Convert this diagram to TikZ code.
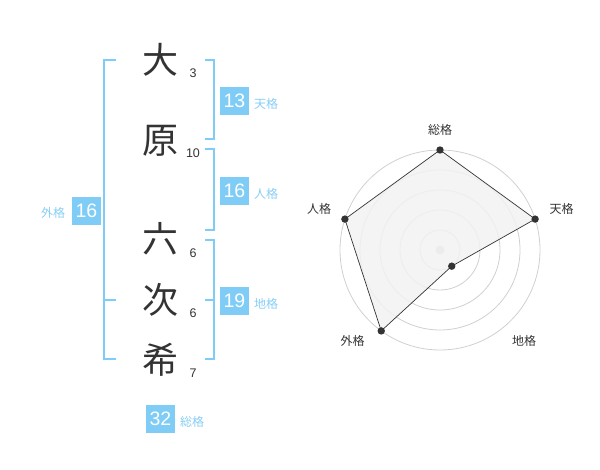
\documentclass[tikz,border=0pt]{standalone}
\usepackage{fontspec}
\setmainfont{Liberation Sans}
\newfontfamily\jpfont{Noto Sans CJK JP}
\usetikzlibrary{calc}
\definecolor{kaku}{RGB}{127,204,247}
\definecolor{kakutext}{RGB}{135,206,245}
\definecolor{ink}{RGB}{51,51,51}
\definecolor{ring}{RGB}{208,208,208}
\definecolor{area}{RGB}{242,242,242}
\tikzset{
  moji/.style={text=ink, font=\jpfont\fontsize{36}{36}\selectfont, inner sep=0},
  kakusu/.style={text=ink, font=\fontsize{12.5}{12.5}\selectfont, inner sep=0},
  kbox/.style={fill=kaku, text=white, font=\fontsize{19.5}{19.5}\selectfont, minimum width=29, minimum height=28, inner sep=0},
  klabel/.style={text=kakutext, font=\jpfont\fontsize{12}{12}\selectfont, inner sep=0},
  bracket/.style={draw=kaku, line width=2},
  rlabel/.style={text=ink, font=\jpfont\fontsize{12}{12}\selectfont, inner sep=0},
  ringline/.style={draw=ring, line width=0.8},
  dot/.style={fill=ink, draw=none}
}

\begin{document}
\begin{tikzpicture}[x=1pt, y=-1pt]
			%%%%% START %%%%%
			\useasboundingbox (0,0) rectangle (600,470);
			
			% name
			\node[moji] (tai) at (160,60) {大};
			\node[moji] (hara) at (160,141) {原};
			\node[moji] (roku) at (160,239) {六};
			\node[moji] (tsugi) at (160,300) {次};
			\node[moji] (ki) at (160,360) {希};
			
			\node[kakusu] (n1) at (193,73) {3};
			\node[kakusu] (n2) at (193,153) {10};
			\node[kakusu] (n3) at (193,253) {6};
			\node[kakusu] (n4) at (193,313) {6};
			\node[kakusu] (n5) at (193,373) {7};
			
			% brackets
			\draw[bracket] (115.7,60) -- (104.3,60) -- (104.3,359) -- (115.7,359);
			\draw[bracket] (104.3,300) -- (115.7,300);
			
			\draw[bracket] (205,60) -- (214.3,60) -- (214.3,139.3) -- (205,139.3);
			\draw[bracket] (205,149.3) -- (214.3,149.3) -- (214.3,230) -- (205,230);
			\draw[bracket] (205,240) -- (214.3,240) -- (214.3,359) -- (205,359);
			\draw[bracket] (214.3,300) -- (205,300);
			
			% kaku
			\node[kbox] (ten) at (234.5,101) {13};
			\node[klabel, anchor=west] (tenl) at (254,104) {天格};
			\node[kbox] (jin) at (234.5,191) {16};
			\node[klabel, anchor=west] (jinl) at (254,194) {人格};
			\node[kbox] (chi) at (234.5,301) {19};
			\node[klabel, anchor=west] (chil) at (254,304) {地格};
			\node[kbox] (gai) at (86.5,211) {16};
			\node[klabel] (gail) at (53,213) {外格};
			\node[kbox] (sou) at (160.5,419) {32};
			\node[klabel, anchor=west] (soul) at (180,422) {総格};
			
			% radar
			\begin{scope}[shift={(440,250)}, y=1pt]
			\foreach \r in {20,40,60,80,100}
				\draw[ringline] (0,0) circle (\r pt);
			\fill[ring] (0,0) circle (4.5pt);
			
			\coordinate (psou) at (90:100);
			\coordinate (pten) at (18:100);
			\coordinate (pchi) at (-54:20);
			\coordinate (pgai) at (-126:100);
			\coordinate (pjin) at (162:100);
			
			\draw[fill=area, fill opacity=0.85, draw=ink, line width=0.7] (psou) -- (pten) -- (pchi) -- (pgai) -- (pjin) -- cycle;
			\foreach \p in {psou,pten,pchi,pgai,pjin}
				\fill[dot] (\p) circle (3.7pt);
			
			\node[rlabel] (rsou) at (0,120) {総格};
			\node[rlabel] (rten) at (121.7,41) {天格};
			\node[rlabel] (rchi) at (84,-91) {地格};
			\node[rlabel] (rgai) at (-87.3,-91) {外格};
			\node[rlabel] (rjin) at (-121,41) {人格};
			\end{scope}
			
			%%%%% END %%%%%
\end{tikzpicture}
\end{document}
